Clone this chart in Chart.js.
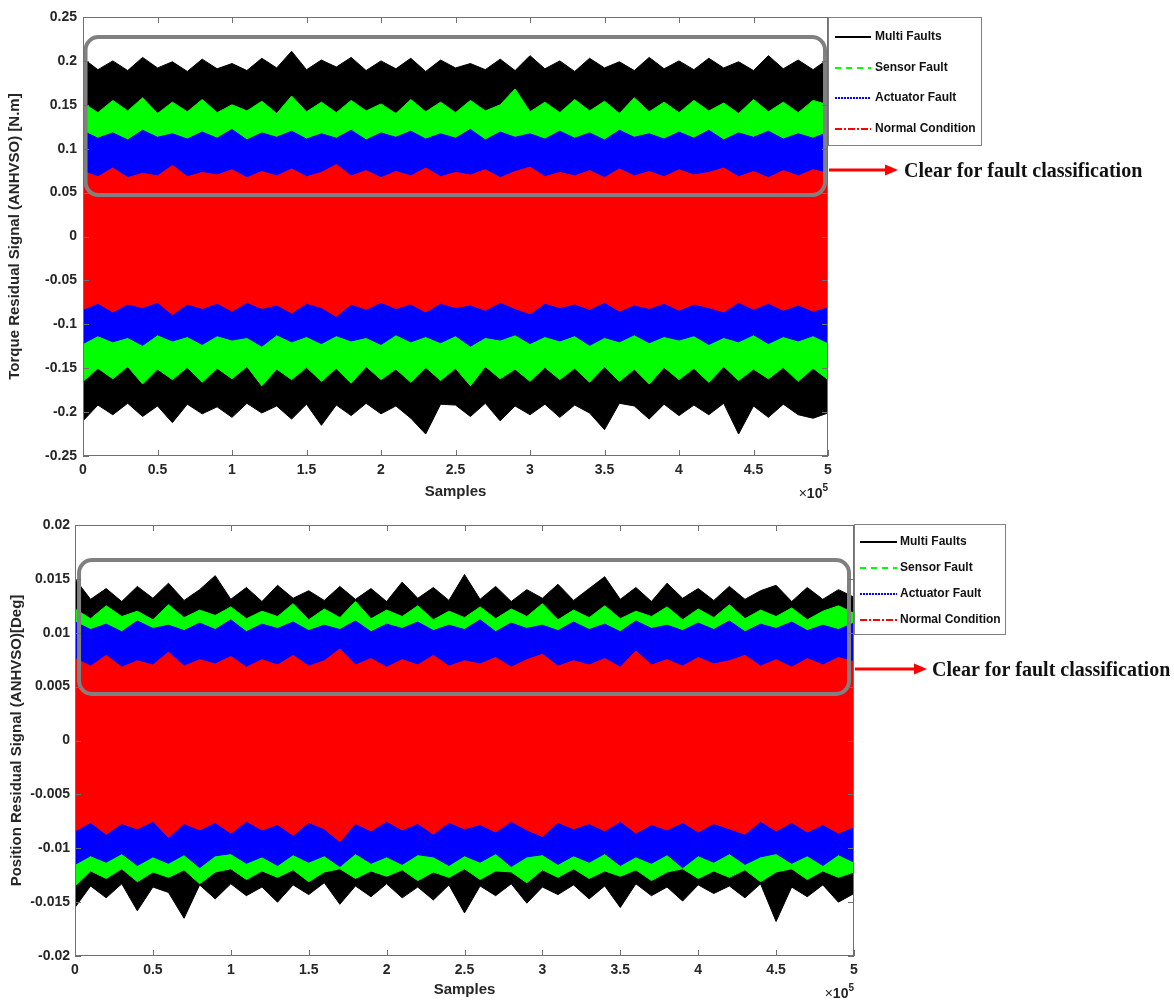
<!DOCTYPE html>
<html lang="en">
<head>
  <meta charset="UTF-8">
  <title>Residual Signals (ANHVSO)</title>
  <style>
    body { margin: 0; background: #fff; }
    #wrap { position: relative; width: 1174px; height: 1003px; }
    .box { position: absolute; left: 0; width: 1174px; }
    #topBox { top: 0; height: 505px; }
    #botBox { top: 505px; height: 498px; }
  </style>
</head>
<body>
<div id="wrap">
  <div class="box" id="topBox"><canvas id="torqueChart"></canvas></div>
  <div class="box" id="botBox"><canvas id="positionChart"></canvas></div>
</div>

<script src="https://cdn.jsdelivr.net/npm/chart.js@4.4.2/dist/chart.umd.min.js"></script>
<script>
// sample positions, in units of 10^5 samples
const samples = [0,0.1,0.2,0.3,0.4,0.5,0.6,0.7,0.8,0.9,
  1,1.1,1.2,1.3,1.4,1.5,1.6,1.7,1.8,1.9,
  2,2.1,2.2,2.3,2.4,2.5,2.6,2.7,2.8,2.9,
  3,3.1,3.2,3.3,3.4,3.5,3.6,3.7,3.8,3.9,
  4,4.1,4.2,4.3,4.4,4.5,4.6,4.7,4.8,4.9,5];

const seriesNames = ['Multi Faults', 'Sensor Fault', 'Actuator Fault', 'Normal Condition'];

// torque residual envelopes [N.m] (upper / lower edge of each trace)
const torqueMultiHi = [0.203,0.190,0.200,0.189,0.204,0.192,0.199,0.188,0.202,0.191,
  0.197,0.189,0.203,0.192,0.211,0.190,0.201,0.193,0.204,0.189,
  0.200,0.191,0.203,0.188,0.201,0.192,0.197,0.190,0.202,0.189,
  0.206,0.191,0.200,0.188,0.203,0.192,0.199,0.189,0.204,0.191,
  0.200,0.190,0.203,0.192,0.199,0.189,0.206,0.191,0.201,0.190,0.202];
const torqueMultiLo = [-0.210,-0.192,-0.203,-0.190,-0.205,-0.193,-0.212,-0.191,-0.202,-0.194,
  -0.206,-0.190,-0.201,-0.193,-0.208,-0.191,-0.215,-0.192,-0.204,-0.190,
  -0.202,-0.193,-0.207,-0.225,-0.191,-0.192,-0.205,-0.190,-0.210,-0.193,
  -0.203,-0.191,-0.206,-0.192,-0.201,-0.220,-0.190,-0.193,-0.208,-0.191,
  -0.204,-0.192,-0.203,-0.190,-0.225,-0.193,-0.206,-0.191,-0.203,-0.207,-0.201];
const torqueSensorHi = [0.152,0.141,0.155,0.143,0.158,0.140,0.153,0.142,0.156,0.141,
  0.150,0.143,0.154,0.140,0.160,0.142,0.153,0.141,0.155,0.143,
  0.151,0.140,0.156,0.142,0.153,0.141,0.155,0.143,0.150,0.168,
  0.142,0.153,0.141,0.156,0.143,0.154,0.140,0.158,0.142,0.153,
  0.141,0.155,0.143,0.152,0.140,0.156,0.142,0.153,0.141,0.155,0.150];
const torqueSensorLo = [-0.165,-0.150,-0.162,-0.148,-0.168,-0.151,-0.163,-0.149,-0.166,-0.150,
  -0.162,-0.148,-0.170,-0.151,-0.163,-0.149,-0.165,-0.150,-0.167,-0.148,
  -0.163,-0.151,-0.166,-0.149,-0.164,-0.150,-0.170,-0.148,-0.162,-0.151,
  -0.165,-0.149,-0.163,-0.150,-0.166,-0.148,-0.165,-0.151,-0.168,-0.149,
  -0.163,-0.150,-0.166,-0.148,-0.164,-0.151,-0.162,-0.149,-0.165,-0.150,-0.163];
const torqueActuatorHi = [0.120,0.112,0.118,0.110,0.121,0.113,0.117,0.111,0.119,0.112,
  0.122,0.110,0.118,0.113,0.120,0.111,0.117,0.112,0.121,0.110,
  0.118,0.113,0.120,0.111,0.117,0.112,0.122,0.110,0.119,0.113,
  0.117,0.111,0.120,0.112,0.118,0.110,0.121,0.113,0.117,0.111,
  0.119,0.112,0.121,0.110,0.118,0.113,0.120,0.111,0.117,0.112,0.119];
const torqueActuatorLo = [-0.122,-0.113,-0.120,-0.115,-0.124,-0.112,-0.119,-0.114,-0.123,-0.113,
  -0.118,-0.115,-0.125,-0.112,-0.120,-0.114,-0.122,-0.113,-0.119,-0.115,
  -0.123,-0.112,-0.120,-0.114,-0.121,-0.113,-0.125,-0.115,-0.118,-0.112,
  -0.122,-0.114,-0.119,-0.113,-0.124,-0.115,-0.120,-0.112,-0.121,-0.114,
  -0.118,-0.113,-0.123,-0.115,-0.120,-0.112,-0.122,-0.114,-0.119,-0.113,-0.121];
const torqueNormalHi = [0.074,0.068,0.078,0.067,0.072,0.069,0.081,0.068,0.073,0.070,
  0.076,0.067,0.074,0.069,0.077,0.068,0.073,0.082,0.069,0.075,
  0.067,0.074,0.069,0.078,0.068,0.073,0.070,0.076,0.067,0.074,
  0.079,0.068,0.073,0.069,0.075,0.067,0.077,0.069,0.074,0.068,
  0.076,0.070,0.073,0.078,0.068,0.074,0.067,0.075,0.069,0.076,0.072];
const torqueNormalLo = [-0.083,-0.076,-0.086,-0.077,-0.081,-0.075,-0.089,-0.077,-0.082,-0.076,
  -0.085,-0.075,-0.082,-0.078,-0.087,-0.076,-0.081,-0.091,-0.077,-0.083,
  -0.075,-0.082,-0.077,-0.086,-0.076,-0.081,-0.078,-0.084,-0.075,-0.082,
  -0.088,-0.076,-0.081,-0.077,-0.083,-0.075,-0.085,-0.078,-0.082,-0.076,
  -0.084,-0.077,-0.081,-0.086,-0.075,-0.083,-0.076,-0.084,-0.078,-0.085,-0.080];

// position residual envelopes [Deg]
const posMultiHi = [0.0150,0.0131,0.0141,0.0129,0.0143,0.0132,0.0146,0.0130,0.0140,0.0153,
  0.0131,0.0142,0.0129,0.0144,0.0132,0.0139,0.0130,0.0143,0.0131,0.0141,
  0.0129,0.0147,0.0132,0.0142,0.0130,0.0154,0.0131,0.0143,0.0129,0.0140,
  0.0132,0.0145,0.0130,0.0141,0.0152,0.0131,0.0142,0.0129,0.0146,0.0132,
  0.0141,0.0130,0.0143,0.0131,0.0139,0.0144,0.0129,0.0142,0.0131,0.0140,0.0133];
const posMultiLo = [-0.0155,-0.0135,-0.0146,-0.0133,-0.0158,-0.0136,-0.0141,-0.0165,-0.0134,-0.0147,
  -0.0133,-0.0144,-0.0136,-0.0150,-0.0134,-0.0143,-0.0132,-0.0152,-0.0135,-0.0145,
  -0.0133,-0.0146,-0.0136,-0.0148,-0.0134,-0.0160,-0.0135,-0.0144,-0.0133,-0.0151,
  -0.0136,-0.0143,-0.0134,-0.0147,-0.0135,-0.0155,-0.0133,-0.0144,-0.0136,-0.0149,
  -0.0134,-0.0142,-0.0135,-0.0146,-0.0133,-0.0168,-0.0136,-0.0145,-0.0134,-0.0150,-0.0142];
const posSensorHi = [0.0122,0.0113,0.0125,0.0115,0.0120,0.0112,0.0126,0.0114,0.0121,0.0116,
  0.0124,0.0113,0.0120,0.0115,0.0127,0.0112,0.0122,0.0114,0.0129,0.0113,
  0.0121,0.0115,0.0125,0.0112,0.0120,0.0114,0.0124,0.0113,0.0122,0.0115,
  0.0127,0.0112,0.0121,0.0114,0.0125,0.0113,0.0120,0.0115,0.0124,0.0112,
  0.0122,0.0114,0.0126,0.0113,0.0121,0.0115,0.0123,0.0112,0.0120,0.0125,0.0118];
const posSensorLo = [-0.0135,-0.0121,-0.0128,-0.0119,-0.0131,-0.0122,-0.0127,-0.0120,-0.0133,-0.0122,
  -0.0119,-0.0129,-0.0121,-0.0127,-0.0120,-0.0131,-0.0122,-0.0119,-0.0128,-0.0121,
  -0.0126,-0.0120,-0.0130,-0.0122,-0.0127,-0.0119,-0.0129,-0.0121,-0.0122,-0.0132,
  -0.0120,-0.0127,-0.0119,-0.0128,-0.0121,-0.0126,-0.0120,-0.0130,-0.0122,-0.0119,
  -0.0128,-0.0121,-0.0127,-0.0120,-0.0131,-0.0122,-0.0119,-0.0129,-0.0121,-0.0127,-0.0122];
const posActuatorHi = [0.0110,0.0103,0.0108,0.0101,0.0111,0.0104,0.0107,0.0102,0.0109,0.0103,
  0.0112,0.0101,0.0108,0.0104,0.0110,0.0102,0.0107,0.0103,0.0111,0.0101,
  0.0108,0.0104,0.0110,0.0102,0.0107,0.0103,0.0112,0.0101,0.0109,0.0104,
  0.0107,0.0102,0.0110,0.0103,0.0108,0.0101,0.0111,0.0104,0.0107,0.0102,
  0.0109,0.0103,0.0111,0.0101,0.0108,0.0104,0.0110,0.0102,0.0107,0.0103,0.0109];
const posActuatorLo = [-0.0115,-0.0107,-0.0113,-0.0105,-0.0116,-0.0108,-0.0114,-0.0106,-0.0118,-0.0107,
  -0.0105,-0.0114,-0.0108,-0.0116,-0.0106,-0.0113,-0.0107,-0.0117,-0.0105,-0.0114,
  -0.0108,-0.0115,-0.0106,-0.0108,-0.0116,-0.0107,-0.0113,-0.0105,-0.0117,-0.0108,
  -0.0106,-0.0115,-0.0107,-0.0113,-0.0105,-0.0116,-0.0108,-0.0114,-0.0106,-0.0118,
  -0.0107,-0.0113,-0.0105,-0.0115,-0.0108,-0.0105,-0.0114,-0.0107,-0.0116,-0.0106,-0.0113];
const posNormalHi = [0.0076,0.0069,0.0079,0.0068,0.0074,0.0070,0.0082,0.0069,0.0075,0.0071,
  0.0078,0.0068,0.0075,0.0070,0.0079,0.0069,0.0074,0.0085,0.0070,0.0076,
  0.0068,0.0075,0.0070,0.0079,0.0069,0.0074,0.0071,0.0077,0.0068,0.0075,
  0.0080,0.0069,0.0074,0.0070,0.0076,0.0068,0.0083,0.0070,0.0075,0.0069,
  0.0077,0.0071,0.0074,0.0079,0.0069,0.0075,0.0068,0.0076,0.0070,0.0077,0.0073];
const posNormalLo = [-0.0084,-0.0076,-0.0087,-0.0077,-0.0082,-0.0075,-0.0090,-0.0077,-0.0083,-0.0076,
  -0.0086,-0.0075,-0.0083,-0.0078,-0.0088,-0.0076,-0.0082,-0.0094,-0.0077,-0.0084,
  -0.0075,-0.0083,-0.0077,-0.0087,-0.0076,-0.0082,-0.0078,-0.0085,-0.0075,-0.0083,
  -0.0089,-0.0076,-0.0082,-0.0077,-0.0084,-0.0075,-0.0086,-0.0078,-0.0083,-0.0076,
  -0.0085,-0.0077,-0.0082,-0.0087,-0.0075,-0.0084,-0.0076,-0.0085,-0.0078,-0.0086,-0.0080];

const torqueTicks = { min: -0.25, max: 0.25, step: 0.05 };
const positionTicks = { min: -0.02, max: 0.02, step: 0.005 };
const sampleTicks = { min: 0, max: 5, step: 0.5 };

// line look of each series (colour, legend dash)
const seriesStyle = [
  { color: '#000000', dash: [] },
  { color: '#00ff00', dash: [6, 5] },
  { color: '#0000ff', dash: [2, 1] },
  { color: '#ff0000', dash: [7, 2, 2, 2] }
];

const SANS = '"Liberation Sans", Arial, sans-serif';
Chart.defaults.font.family = SANS;
Chart.defaults.color = '#262626';

const fmt = v => String(Number(v.toFixed(4)));

function roundRect(ctx, x, y, w, h, r) {
  ctx.beginPath();
  ctx.moveTo(x + r, y);
  ctx.arcTo(x + w, y, x + w, y + h, r);
  ctx.arcTo(x + w, y + h, x, y + h, r);
  ctx.arcTo(x, y + h, x, y, r);
  ctx.arcTo(x, y, x + w, y, r);
  ctx.closePath();
}

// frame, inward ticks, legend, highlight box, arrow note, x10^5 label
const decor = {
  id: 'decor',
  afterDatasetsDraw(chart, args, o) {
    const { ctx, scales: { x, y } } = chart;
    const l = x.getPixelForValue(o.boxX[0]), r = x.getPixelForValue(o.boxX[1]);
    const t = y.getPixelForValue(o.boxY[1]), b = y.getPixelForValue(o.boxY[0]);
    ctx.save();
    ctx.strokeStyle = '#808080';
    ctx.lineWidth = 4;
    roundRect(ctx, l, t, r - l, b - t, 13);
    ctx.stroke();
    ctx.restore();
  },
  afterDraw(chart, args, o) {
    const { ctx, chartArea: a, scales: { x, y } } = chart;
    ctx.save();
    ctx.strokeStyle = '#707070';
    ctx.lineWidth = 1;
    ctx.strokeRect(a.left + 0.5, a.top + 0.5, a.width - 1, a.height - 1);
    ctx.beginPath();
    x.ticks.forEach(t => {
      const px = Math.round(x.getPixelForValue(t.value)) + 0.5;
      ctx.moveTo(px, a.bottom); ctx.lineTo(px, a.bottom - 6);
      ctx.moveTo(px, a.top); ctx.lineTo(px, a.top + 6);
    });
    y.ticks.forEach(t => {
      const py = Math.round(y.getPixelForValue(t.value)) + 0.5;
      ctx.moveTo(a.left, py); ctx.lineTo(a.left + 6, py);
      ctx.moveTo(a.right, py); ctx.lineTo(a.right - 6, py);
    });
    ctx.stroke();

    // legend
    const lg = o.legend;
    const bx = a.right, by = a.top + lg.dy;
    ctx.fillStyle = '#fff';
    ctx.fillRect(bx, by, lg.w, lg.h);
    ctx.strokeStyle = '#808080';
    ctx.strokeRect(bx + 0.5, by + 0.5, lg.w - 1, lg.h - 1);
    ctx.font = 'bold 12px ' + SANS;
    ctx.textBaseline = 'middle';
    seriesNames.forEach((name, i) => {
      const yy = Math.round(by + lg.first + i * lg.gap);
      ctx.strokeStyle = seriesStyle[i].color;
      ctx.lineWidth = 2;
      ctx.setLineDash(seriesStyle[i].dash);
      ctx.beginPath();
      ctx.moveTo(bx + lg.x0, yy); ctx.lineTo(bx + lg.x1, yy);
      ctx.stroke();
      ctx.setLineDash([]);
      ctx.fillStyle = '#111';
      ctx.fillText(name, bx + lg.tx, yy);
    });

    // arrow + note
    const ay = Math.round(y.getPixelForValue(o.arrowY));
    const ax0 = a.right + 1, ax1 = a.right + o.arrowLen;
    ctx.strokeStyle = '#ff0000';
    ctx.fillStyle = '#ff0000';
    ctx.lineWidth = 3;
    ctx.beginPath();
    ctx.moveTo(ax0, ay); ctx.lineTo(ax1 - 10, ay);
    ctx.stroke();
    ctx.beginPath();
    ctx.moveTo(ax1, ay); ctx.lineTo(ax1 - 13, ay - 5.5); ctx.lineTo(ax1 - 13, ay + 5.5);
    ctx.closePath();
    ctx.fill();
    ctx.fillStyle = '#111';
    ctx.font = 'bold 20px "Liberation Serif", "Times New Roman", serif';
    ctx.textBaseline = 'alphabetic';
    ctx.textAlign = 'left';
    ctx.fillText('Clear for fault classification', ax1 + o.textGap, ay + 7);

    // exponent label
    ctx.fillStyle = '#262626';
    ctx.textBaseline = 'middle';
    ctx.textAlign = 'right';
    ctx.font = 'bold 10px ' + SANS;
    const ey = a.bottom + 38;
    ctx.fillText('5', a.right, ey - 6);
    const w5 = ctx.measureText('5').width;
    ctx.font = 'bold 14px ' + SANS;
    ctx.fillText('10', a.right - w5, ey);
    const w10 = ctx.measureText('10').width;
    ctx.font = '14px ' + SANS;
    ctx.fillText('\u00d7', a.right - w5 - w10, ey);
    ctx.restore();
  }
};

function bandSets(groups) {
  const sets = [];
  groups.forEach((g, i) => {
    const c = seriesStyle[i].color;
    const pts = arr => samples.map((s, k) => ({ x: s, y: arr[k] }));
    sets.push({ label: seriesNames[i], data: pts(g[0]), borderColor: c, backgroundColor: c,
      borderWidth: 1, pointRadius: 0, fill: '+1', order: 4 - i });
    sets.push({ label: seriesNames[i] + ' (low)', data: pts(g[1]), borderColor: c, backgroundColor: c,
      borderWidth: 1, pointRadius: 0, fill: false, order: 4 - i });
  });
  return sets;
}

function makeChart(id, cfg) {
  return new Chart(document.getElementById(id), {
    type: 'line',
    data: { datasets: bandSets(cfg.groups) },
    options: {
      responsive: true,
      maintainAspectRatio: false,
      animation: false,
      devicePixelRatio: 1,
      layout: { padding: cfg.padding },
      elements: { line: { tension: 0 } },
      scales: {
        x: {
          type: 'linear', min: sampleTicks.min, max: sampleTicks.max,
          grid: { display: false, drawTicks: false }, border: { display: false },
          ticks: { stepSize: sampleTicks.step, callback: fmt, padding: 6, maxRotation: 0,
            font: { size: 14, weight: 'bold' }, color: '#262626' },
          title: { display: true, text: 'Samples', font: { size: 15, weight: 'bold' },
            color: '#262626', padding: { top: 0, bottom: 4 } },
          afterFit: s => { s.height = cfg.xHeight; }
        },
        y: {
          min: cfg.ticks.min, max: cfg.ticks.max,
          grid: { display: false, drawTicks: false }, border: { display: false },
          ticks: { stepSize: cfg.ticks.step, callback: fmt, padding: cfg.yPad,
            font: { size: 14, weight: 'bold' }, color: '#262626' },
          title: { display: true, text: cfg.yTitle, font: { size: 15, weight: 'bold' },
            color: '#262626', padding: { top: cfg.titlePad, bottom: 0 } },
          afterFit: s => { s.width = cfg.yWidth; }
        }
      },
      plugins: {
        legend: { display: false },
        tooltip: { enabled: false },
        decor: cfg.decor
      }
    },
    plugins: [decor]
  });
}

makeChart('torqueChart', {
  groups: [[torqueMultiHi, torqueMultiLo], [torqueSensorHi, torqueSensorLo],
           [torqueActuatorHi, torqueActuatorLo], [torqueNormalHi, torqueNormalLo]],
  ticks: torqueTicks,
  yTitle: 'Torque Residual Signal (ANHVSO) [N.m]',
  padding: { top: 17, right: 346, left: 0, bottom: 0 },
  yWidth: 83, xHeight: 49, yPad: 6, titlePad: 6,
  decor: {
    boxX: [0.017, 4.98], boxY: [0.0472, 0.2272],
    arrowY: 0.0757, arrowLen: 70, textGap: 6,
    legend: { dy: 0, w: 154, h: 129, first: 20, gap: 30.5, x0: 7, x1: 43, tx: 47 }
  }
});

makeChart('positionChart', {
  groups: [[posMultiHi, posMultiLo], [posSensorHi, posSensorLo],
           [posActuatorHi, posActuatorLo], [posNormalHi, posNormalLo]],
  ticks: positionTicks,
  yTitle: 'Position Residual Signal (ANHVSO)[Deg]',
  padding: { top: 20, right: 320, left: 0, bottom: 0 },
  yWidth: 75, xHeight: 47, yPad: 5, titlePad: 8,
  decor: {
    boxX: [0.026, 4.968], boxY: [0.00432, 0.01675],
    arrowY: 0.0066, arrowLen: 73, textGap: 5,
    legend: { dy: -1, w: 152, h: 111, first: 18, gap: 26, x0: 6, x1: 43, tx: 46 }
  }
});
</script>
</body>
</html>
